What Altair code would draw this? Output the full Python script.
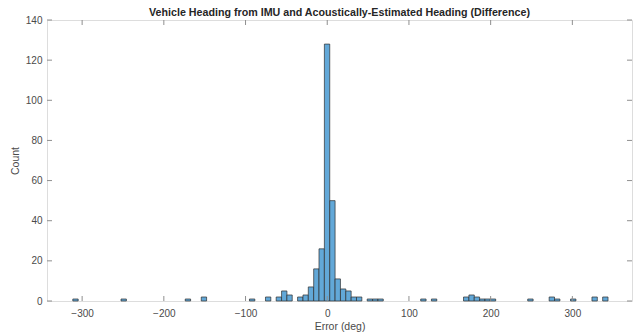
import altair as alt
import pandas as pd

# ---- data ----
BIN_WIDTH = 6.55
bin_start = [-311.4, -252.4, -173.8, -154.2, -95.2, -75.6, -62.5, -55.9, -49.4,
             -36.3, -29.7, -23.2, -16.6, -10.1, -3.5, 3.05, 9.6, 16.2, 22.7,
             29.3, 35.8, 48.9, 55.5, 62.0, 114.4, 127.5, 166.8, 173.4, 179.9,
             186.5, 193.0, 199.6, 245.4, 271.6, 278.2, 297.8, 324.0, 337.1]
counts = [1, 1, 1, 2, 1, 2, 2, 5, 3,
          2, 3, 7, 16, 26, 128, 50, 11, 6, 5,
          2, 2, 1, 1, 1, 1, 1, 2, 3, 2,
          1, 1, 1, 1, 2, 1, 1, 2, 2]
x_ticks = [-300, -200, -100, 0, 100, 200, 300]
y_ticks = [0, 20, 40, 60, 80, 100, 120, 140]

TITLE = "Vehicle Heading from IMU and Acoustically-Estimated Heading (Difference)"
FONT = "Liberation Sans"
TEXT = "#4a4a4a"
FRAME = "#8f8f8f"

W, H = 585, 281
TICK = 5

df = pd.DataFrame({"start": bin_start, "count": counts})
df["end"] = df["start"] + BIN_WIDTH
xt = pd.DataFrame({"v": x_ticks})
yt = pd.DataFrame({"v": y_ticks})

xscale = alt.Scale(domain=[-343, 373], nice=False, zero=False)
yscale = alt.Scale(domain=[0, 140], nice=False)

xaxis = alt.Axis(values=x_ticks, title="Error (deg)", ticks=False,
                 domain=False, grid=False, labelPadding=7,
                 titlePadding=3, labelFontSize=10, titleFontSize=10.5,
                 titleFontWeight="normal", labelColor=TEXT,
                 titleColor=TEXT, labelFont=FONT, titleFont=FONT)
yaxis = alt.Axis(values=y_ticks, title="Count", ticks=False,
                 domain=False, grid=False, labelPadding=5,
                 titlePadding=5, labelFontSize=10, titleFontSize=10.5,
                 titleFontWeight="normal", labelColor=TEXT,
                 titleColor=TEXT, labelFont=FONT, titleFont=FONT)

bars = alt.Chart(df).mark_bar(
    fill="#62A8D8", stroke="#2e2e2e", strokeWidth=0.7
).encode(
    x=alt.X("start:Q", scale=xscale, axis=xaxis),
    x2="end:Q",
    y=alt.Y("count:Q", scale=yscale, axis=yaxis),
    y2=alt.datum(0),
)

xt_bottom = alt.Chart(xt).mark_rule(color=FRAME, strokeWidth=1).encode(
    x=alt.X("v:Q", scale=xscale, axis=xaxis),
    y=alt.value(H), y2=alt.value(H - TICK))
xt_top = alt.Chart(xt).mark_rule(color=FRAME, strokeWidth=1).encode(
    x=alt.X("v:Q", scale=xscale, axis=xaxis),
    y=alt.value(0), y2=alt.value(TICK))
yt_left = alt.Chart(yt).mark_rule(color=FRAME, strokeWidth=1).encode(
    y=alt.Y("v:Q", scale=yscale, axis=yaxis),
    x=alt.value(0), x2=alt.value(TICK))
yt_right = alt.Chart(yt).mark_rule(color=FRAME, strokeWidth=1).encode(
    y=alt.Y("v:Q", scale=yscale, axis=yaxis),
    x=alt.value(W - TICK), x2=alt.value(W))

chart = alt.layer(bars, xt_bottom, xt_top, yt_left, yt_right).properties(
    width=W, height=H,
    title=alt.TitleParams(TITLE, font=FONT, fontSize=10.7, fontWeight="bold",
                          color="#262626", anchor="middle", offset=0,
                          frame="group", dy=4),
    autosize=alt.AutoSizeParams(type="none"),
    padding={"left": 47, "top": 20, "right": 1, "bottom": 33},
).configure_view(stroke=FRAME, strokeWidth=1).configure(background="white")

chart.save("out.html", embed_options={"renderer": "svg", "actions": False})
